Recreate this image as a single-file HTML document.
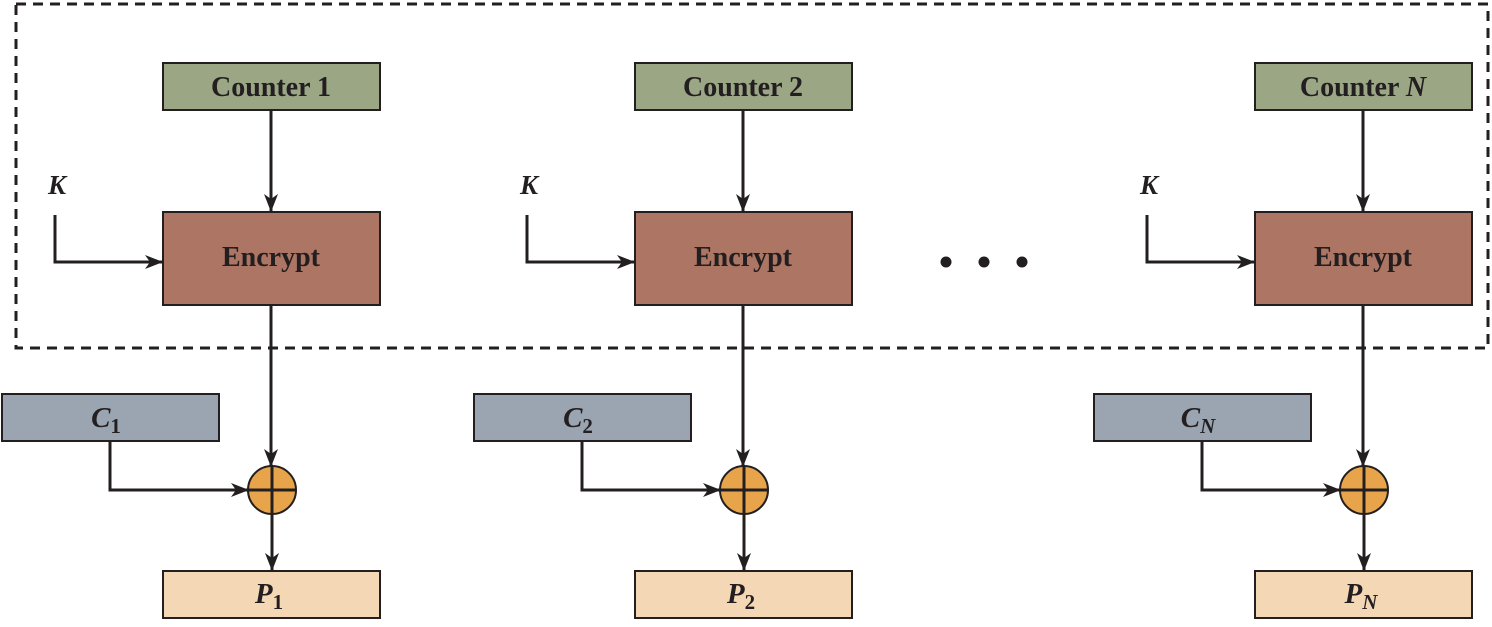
<!DOCTYPE html>
<html><head><meta charset="utf-8"><style>
html,body{margin:0;padding:0;background:#fff;}
svg{display:block;font-family:"Liberation Serif",serif;font-weight:bold;}
</style></head><body>
<svg id="d" width="1492" height="627" viewBox="0 0 1492 627">
<defs><marker id="ah" markerWidth="18" markerHeight="14" refX="17" refY="7" orient="auto" markerUnits="userSpaceOnUse"><path d="M0,0 L18,7 L0,14 L5,7 Z" fill="#231f20"/></marker></defs>
<rect x="16" y="4" width="1472" height="344" fill="none" stroke="#231f20" stroke-width="3" stroke-dasharray="10,7"/>
<g fill="#231f20">
<circle cx="946" cy="262" r="5.5"/><circle cx="984" cy="262" r="5.5"/><circle cx="1022" cy="262" r="5.5"/>
</g>
</svg>
<script>
const offsets=[0,472,1092];
const counters=['1','2','N'];
const subs=['1','2','N'];
const svg=document.getElementById('d');
const NS='http://www.w3.org/2000/svg';
function mk(tag,attrs,parent){const e=document.createElementNS(NS,tag);for(const k in attrs)e.setAttribute(k,attrs[k]);(parent||svg).appendChild(e);return e;}
offsets.forEach((o,i)=>{
  const g=mk('g',{});
  
  
  const S='#231f20';
  const cb=mk('rect',{x:163+o,y:63,width:217,height:47,fill:'#9ba684',stroke:S,'stroke-width':2},g);
  
  
  const ct=mk('text',{x:271+o,y:96,'text-anchor':'middle','font-size':28,fill:S},g);
  
  
  ct.innerHTML='Counter '+(counters[i]==='N'?'<tspan font-style="italic">N</tspan>':counters[i]);
  mk('line',{x1:271+o,y1:110,x2:271+o,y2:211,stroke:S,'stroke-width':3,'marker-end':'url(#ah)'},g);
  const eb=mk('rect',{x:163+o,y:212,width:217,height:93,fill:'#ad7563',stroke:S,'stroke-width':2},g);
  
  
  const et=mk('text',{x:271+o,y:266,'text-anchor':'middle','font-size':28,fill:S},g);
  
  
  et.textContent='Encrypt';
  const kt=mk('text',{x:57+o,y:194,'text-anchor':'middle','font-size':27,'font-style':'italic',fill:S},g);
  
  
  kt.textContent='K';
  mk('polyline',{points:`${55+o},215 ${55+o},262 ${162+o},262`,fill:'none',stroke:S,'stroke-width':3,'marker-end':'url(#ah)'},g);
  mk('line',{x1:271+o,y1:305,x2:271+o,y2:466,stroke:S,'stroke-width':3,'marker-end':'url(#ah)'},g);
  const cx=o;
  const cbx=mk('rect',{x:2+cx,y:394,width:217,height:47,fill:'#9ba5b1',stroke:S,'stroke-width':2},g);
  
  
  const ctx=mk('text',{x:106+cx,y:427,'text-anchor':'middle','font-size':29,'font-style':'italic',fill:S},g);
  
  
  ctx.innerHTML='C<tspan font-style="'+(subs[i]==='N'?'italic':'normal')+'" font-size="21" dy="6">'+subs[i]+'</tspan>';
  mk('polyline',{points:`${110+cx},441 ${110+cx},490 ${248+o},490`,fill:'none',stroke:S,'stroke-width':3,'marker-end':'url(#ah)'},g);
  const xc=mk('circle',{cx:272+o,cy:490,r:24,fill:'#e8a44a',stroke:S,'stroke-width':2},g);
  
  
  mk('line',{x1:272+o,y1:466,x2:272+o,y2:514,stroke:S,'stroke-width':3},g);
  mk('line',{x1:248+o,y1:490,x2:296+o,y2:490,stroke:S,'stroke-width':3},g);
  mk('line',{x1:272+o,y1:514,x2:272+o,y2:570,stroke:S,'stroke-width':3,'marker-end':'url(#ah)'},g);
  const pb=mk('rect',{x:163+o,y:571,width:217,height:47,fill:'#f4d7b4',stroke:S,'stroke-width':2},g);
  
  
  const pt=mk('text',{x:269+o,y:603,'text-anchor':'middle','font-size':29,'font-style':'italic',fill:S},g);
  
  
  pt.innerHTML='P<tspan font-style="'+(subs[i]==='N'?'italic':'normal')+'" font-size="21" dy="6">'+subs[i]+'</tspan>';
});
</script>
</body></html>
